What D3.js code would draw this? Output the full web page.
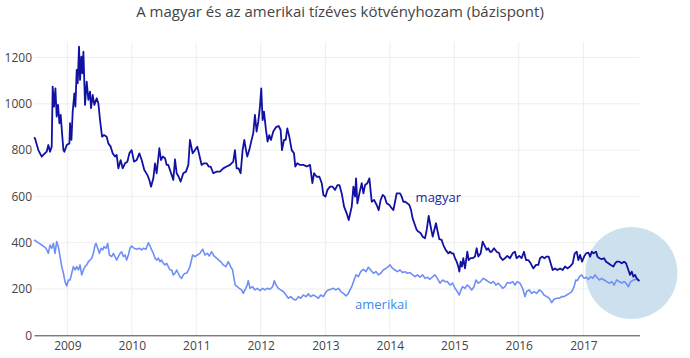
<!DOCTYPE html>
<html><head><meta charset="utf-8">
<script src="https://cdn.jsdelivr.net/npm/d3@7"></script>
<style>
body{margin:0;background:#fff;}
svg{display:block;font-family:"Open Sans",sans-serif;}
</style></head>
<body><svg id="chart" width="690" height="358"></svg>
<script>
const title = "A magyar és az amerikai tízéves kötvényhozam (bázispont)";
const seriesNames = ["magyar", "amerikai"];
const yTicks = [0, 200, 400, 600, 800, 1000, 1200];
const xTickYears = [2009, 2010, 2011, 2012, 2013, 2014, 2015, 2016, 2017];

// dates given as decimal years
const magyarT = [2008.484,2008.499,2008.551,2008.603,2008.628,2008.680,2008.706,2008.732,2008.758,2008.773,2008.794,2008.815,2008.835,2008.856,2008.877,2008.897,2008.918,2008.939,2008.954,2008.990,2009.032,2009.042,2009.063,2009.083,2009.109,2009.125,2009.145,2009.161,2009.181,2009.197,2009.218,2009.233,2009.249,2009.274,2009.300,2009.326,2009.352,2009.367,2009.393,2009.419,2009.455,2009.481,2009.507,2009.538,2009.569,2009.610,2009.636,2009.672,2009.703,2009.740,2009.765,2009.791,2009.827,2009.858,2009.895,2009.931,2009.962,2009.998,2010.034,2010.075,2010.117,2010.153,2010.194,2010.241,2010.272,2010.298,2010.334,2010.360,2010.386,2010.427,2010.453,2010.479,2010.515,2010.541,2010.566,2010.592,2010.618,2010.644,2010.670,2010.696,2010.727,2010.758,2010.799,2010.840,2010.877,2010.902,
2010.944,2010.980,2011.016,2011.047,2011.083,2011.119,2011.161,2011.192,2011.223,2011.264,2011.316,2011.367,2011.419,2011.471,2011.523,2011.574,2011.600,2011.626,2011.657,2011.688,2011.719,2011.745,2011.771,2011.791,2011.822,2011.858,2011.884,2011.910,2011.936,2011.962,2011.988,2012.008,2012.029,2012.050,2012.081,2012.106,2012.132,2012.158,2012.194,2012.236,2012.277,2012.308,2012.329,2012.360,2012.386,2012.411,2012.442,2012.479,2012.515,2012.535,2012.566,2012.608,2012.659,2012.711,2012.763,2012.799,2012.825,2012.866,2012.908,2012.944,2012.970,2013.001,2013.032,2013.073,2013.114,2013.150,2013.187,2013.218,2013.254,2013.290,2013.331,2013.362,
2013.409,2013.435,2013.460,2013.476,2013.497,2013.528,2013.564,2013.590,2013.616,2013.652,2013.683,2013.719,2013.755,2013.796,2013.827,2013.858,2013.889,2013.920,2013.951,2013.993,2014.029,2014.055,2014.081,2014.106,2014.132,2014.158,2014.184,2014.210,2014.236,2014.272,2014.303,2014.329,2014.354,2014.380,2014.417,2014.442,2014.479,2014.510,2014.546,2014.572,2014.603,2014.634,2014.665,2014.690,2014.716,2014.737,2014.768,2014.804,2014.830,2014.866,2014.908,2014.933,2014.959,2014.985,2015.011,2015.037,2015.062,2015.078,2015.099,2015.119,2015.140,2015.166,2015.202,2015.223,2015.254,2015.285,2015.321,2015.347,2015.373,2015.409,2015.440,2015.466,2015.502,2015.528,2015.553,2015.579,2015.616,2015.657,2015.698,
2015.709,2015.750,2015.786,2015.822,2015.864,2015.905,2015.941,2015.967,2016.008,2016.044,2016.081,2016.112,2016.148,2016.184,2016.225,2016.267,2016.303,2016.329,2016.365,2016.396,2016.432,2016.463,2016.494,2016.525,2016.561,2016.597,2016.639,2016.680,2016.716,2016.752,2016.794,2016.835,2016.866,2016.897,2016.923,2016.949,2016.980,2017.011,2017.042,2017.078,2017.104,2017.130,2017.156,2017.197,2017.218,2017.249,2017.285,2017.321,2017.352,2017.388,2017.424,2017.466,2017.492,2017.517,2017.559,2017.595,2017.631,2017.662,2017.698,2017.724,2017.750,2017.776,2017.802,2017.827,2017.869];
const magyarV = [854,851,800,772,779,793,822,793,815,1074,988,1067,945,995,916,952,873,800,793,822,829,916,844,966,1045,988,1146,1089,1247,1103,1204,1132,1225,995,1096,1017,1053,981,1038,995,1024,1002,930,858,865,858,829,815,786,772,779,721,757,721,743,750,786,800,750,757,786,757,714,693,671,642,678,743,700,808,757,772,765,736,736,714,693,671,760,700,685,664,700,707,736,844,
786,800,815,779,736,743,743,729,729,700,707,707,721,729,736,750,800,721,721,700,800,844,800,772,800,844,873,952,880,923,988,1067,930,966,887,837,865,844,880,899,904,887,800,844,844,894,858,800,786,729,743,736,736,729,736,657,700,685,685,657,606,599,628,642,642,628,649,649,613,556,527,498,
556,642,599,678,570,613,657,613,649,657,678,577,585,563,541,585,606,599,570,563,549,541,577,613,613,613,599,577,577,570,563,541,505,484,455,448,441,426,419,455,516,469,426,455,484,455,415,412,390,369,354,361,354,354,333,318,297,275,318,297,333,289,361,325,333,333,340,376,340,354,405,390,369,376,361,361,376,361,354,
340,325,333,343,333,354,361,333,343,333,361,325,325,311,289,304,304,333,340,333,340,340,311,282,289,282,289,282,297,289,297,311,354,361,325,347,318,340,354,357,340,361,354,361,340,333,329,333,318,311,304,297,311,318,318,311,318,311,282,261,275,253,261,246,235];

const amerikaiT = [2008.484,2008.525,2008.566,2008.603,2008.639,2008.670,2008.706,2008.732,2008.758,2008.784,2008.809,2008.835,2008.861,2008.887,2008.913,2008.939,2008.964,2008.990,2009.016,2009.042,2009.068,2009.094,2009.119,2009.145,2009.171,2009.197,2009.223,2009.249,2009.274,2009.300,2009.326,2009.352,2009.378,2009.404,2009.430,2009.445,2009.471,2009.497,2009.523,2009.548,2009.569,2009.600,2009.626,2009.652,2009.688,2009.714,2009.740,2009.765,2009.791,2009.817,2009.843,2009.869,2009.895,2009.920,2009.946,2009.972,2009.998,2010.034,2010.075,2010.117,2010.153,2010.179,2010.220,2010.256,2010.282,2010.308,2010.334,2010.360,2010.386,2010.411,2010.437,2010.463,2010.489,2010.515,2010.541,2010.566,2010.592,2010.618,2010.644,2010.670,2010.696,2010.721,2010.747,2010.773,2010.799,2010.825,2010.851,2010.877,2010.902,
2010.944,2010.980,2011.016,2011.057,2011.099,2011.135,2011.171,2011.202,2011.238,2011.274,2011.316,2011.357,2011.393,2011.419,2011.460,2011.497,2011.533,2011.564,2011.585,2011.605,2011.636,2011.667,2011.703,2011.729,2011.755,2011.781,2011.807,2011.833,2011.874,2011.910,2011.946,2011.988,2012.029,2012.065,2012.101,2012.143,2012.184,2012.210,2012.236,2012.272,2012.308,2012.349,2012.391,2012.427,2012.463,2012.504,2012.546,2012.582,2012.618,2012.659,2012.701,2012.737,2012.773,2012.815,2012.856,2012.892,2012.928,2012.970,2013.011,2013.047,2013.083,2013.125,2013.161,2013.202,2013.238,2013.280,2013.321,2013.357,2013.393,
2013.409,2013.445,2013.476,2013.512,2013.548,2013.590,2013.631,2013.667,2013.703,2013.745,2013.786,2013.822,2013.858,2013.899,2013.941,2013.977,2014.003,2014.044,2014.081,2014.117,2014.158,2014.199,2014.236,2014.272,2014.313,2014.354,2014.391,2014.427,2014.468,2014.510,2014.546,2014.582,2014.623,2014.665,2014.701,2014.737,2014.778,2014.820,2014.856,2014.892,2014.933,2014.975,2015.011,2015.047,2015.078,2015.104,2015.130,2015.166,2015.202,2015.233,2015.269,2015.305,2015.336,2015.373,2015.409,2015.450,2015.491,2015.528,2015.564,2015.605,2015.646,2015.683,
2015.709,2015.750,2015.786,2015.822,2015.864,2015.905,2015.941,2015.977,2016.019,2016.060,2016.096,2016.122,2016.163,2016.200,2016.236,2016.277,2016.318,2016.355,2016.391,2016.432,2016.473,2016.510,2016.546,2016.587,2016.628,2016.665,2016.701,2016.742,2016.783,2016.820,2016.856,2016.882,2016.908,2016.939,2016.975,2017.011,2017.042,2017.078,2017.114,2017.145,2017.181,2017.207,2017.249,2017.285,2017.321,2017.362,2017.404,2017.440,2017.476,2017.517,2017.559,2017.595,2017.631,2017.662,2017.698,2017.734,2017.776,2017.817,2017.838,2017.869];
const amerikaiV = [412,405,397,390,383,376,354,390,376,397,354,405,383,340,297,268,232,213,239,239,268,297,282,297,282,304,261,282,297,304,318,325,333,354,390,397,376,354,376,369,383,376,397,347,340,354,340,325,340,354,361,340,347,325,347,376,386,376,372,376,369,376,372,400,386,369,354,333,325,333,318,325,311,304,311,297,282,282,261,268,282,268,253,246,261,268,268,282,297,
347,340,347,354,372,347,354,343,361,343,333,323,314,304,297,318,297,282,246,217,210,203,196,181,196,210,236,203,210,196,203,193,203,196,203,199,210,236,217,203,196,189,174,160,167,156,153,167,160,174,167,179,167,174,167,160,174,167,189,196,199,203,196,203,189,181,170,181,203,
210,239,261,253,275,285,275,294,282,268,275,261,268,282,289,297,304,289,282,275,282,271,275,268,271,261,253,261,251,261,246,251,242,253,261,246,225,239,232,232,217,225,203,189,174,196,210,203,217,210,196,210,239,225,232,246,239,232,225,232,217,225,
217,203,210,228,225,232,217,232,225,203,167,189,196,181,189,181,196,189,174,167,160,141,156,160,160,167,167,174,181,189,210,239,236,253,261,246,251,242,253,246,261,251,239,246,239,232,225,232,217,239,232,225,232,225,210,232,239,242,239,233];

function toDate(t){
  const y = Math.floor(t);
  const s = Date.UTC(y,0,1), e = Date.UTC(y+1,0,1);
  return new Date(s + (t - y) * (e - s));
}
const magyar = magyarT.map((t,i)=>({d:toDate(t), v:magyarV[i]}));
const amerikai = amerikaiT.map((t,i)=>({d:toDate(t), v:amerikaiV[i]}));

const svg = d3.select("#chart");
const W = 690, H = 358;
const m = {l:34, r:50.6, t:42, b:22.7};
const x = d3.scaleUtc()
  .domain([toDate(magyarT[0]), toDate(magyarT[magyarT.length-1])])
  .range([m.l, W - m.r]);
const y = d3.scaleLinear().domain([0, 1267]).range([H - m.b, m.t]);

// gridlines
const g = svg.append("g");
g.selectAll(".vg").data(xTickYears).join("line")
  .attr("x1", d=>x(toDate(d))).attr("x2", d=>x(toDate(d)))
  .attr("y1", m.t).attr("y2", H - m.b)
  .attr("stroke", "#eee").attr("stroke-width", 1);
g.selectAll(".hg").data(yTicks.filter(d=>d>0)).join("line")
  .attr("x1", m.l).attr("x2", W - m.r)
  .attr("y1", d=>y(d)).attr("y2", d=>y(d))
  .attr("stroke", "#eee").attr("stroke-width", 1);

// highlight circle (behind lines)
const lastM = magyar[magyar.length-1];
svg.append("circle")
  .attr("cx", x(lastM.d) - 8).attr("cy", y(lastM.v) - 8)
  .attr("r", 46)
  .attr("fill", "#cde0ee");

// axes
const xAxis = d3.axisBottom(x)
  .tickValues(xTickYears.map(toDate))
  .tickFormat(d3.utcFormat("%Y"))
  .tickSize(0).tickPadding(6);
const xg = svg.append("g").attr("transform", `translate(0,${H - m.b})`).call(xAxis);
xg.select(".domain").attr("stroke", "#444").attr("stroke-width", 1);
xg.selectAll("text").attr("fill", "#444").style("font-size", "12px").style("font-family", "'Open Sans', sans-serif");

const yAxis = d3.axisLeft(y).tickValues(yTicks).tickFormat(d3.format("d")).tickSize(0).tickPadding(2);
const yg = svg.append("g").attr("transform", `translate(${m.l},0)`).call(yAxis);
yg.select(".domain").remove();
yg.selectAll("text").attr("fill", "#444").style("font-size", "12px").style("font-family", "'Open Sans', sans-serif");

// lines
const line = d3.line().x(d=>x(d.d)).y(d=>y(d.v));
svg.append("path").datum(amerikai).attr("d", line)
  .attr("fill", "none").attr("stroke", "#6f8ff5").attr("stroke-width", 1.6).attr("stroke-linejoin", "round");
svg.append("path").datum(magyar).attr("d", line)
  .attr("fill", "none").attr("stroke", "#1111a3").attr("stroke-width", 1.8).attr("stroke-linejoin", "round");

// labels
svg.append("text").attr("x", x(toDate(2014.4))).attr("y", y(595)).attr("dy", "0.35em")
  .attr("fill", "#26269c").style("font-size", "13px").text(seriesNames[0]);
svg.append("text").attr("x", x(toDate(2013.46))).attr("y", y(135)).attr("dy", "0.35em")
  .attr("fill", "#3b8af0").style("font-size", "13px").text(seriesNames[1]);

// title
svg.append("text").attr("x", 340).attr("y", 17).attr("text-anchor", "middle")
  .attr("fill", "#444").style("font-size", "15px").text(title);
</script></body></html>
